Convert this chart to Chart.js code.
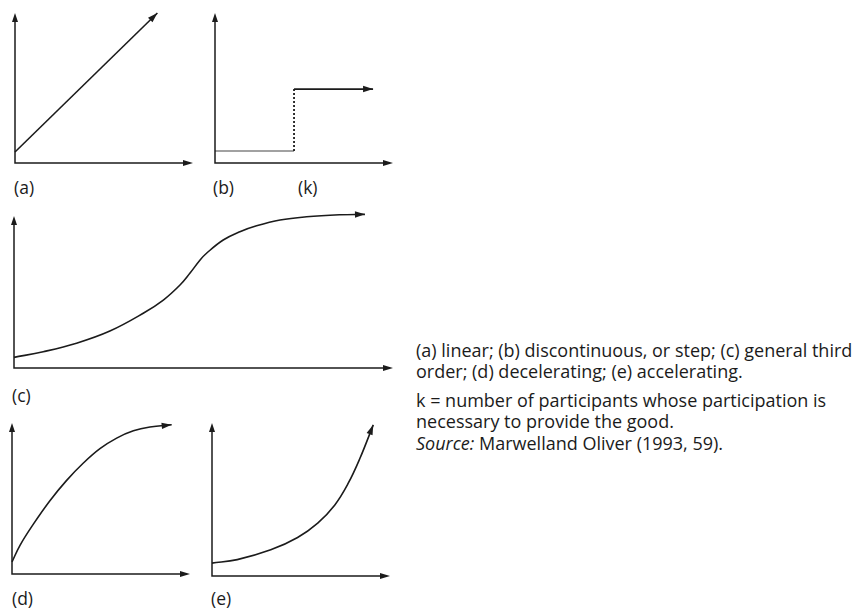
<!DOCTYPE html>
<html>
<head>
<meta charset="utf-8">
<script src="https://cdn.jsdelivr.net/npm/chart.js@4.4.1/dist/chart.umd.min.js"></script>
<style>
    body { margin: 0; width: 855px; height: 616px; background: #fff; position: relative; overflow: hidden;
           font-family: "Open Sans", "DejaVu Sans", sans-serif; color: #1b1b1b; }
    canvas { position: absolute; }
    .lbl { position: absolute; font-size: 17.5px; line-height: 18px; }
    .note { position: absolute; left: 416px; font-size: 18px; line-height: 21px; white-space: nowrap; }
</style>
</head>
<body>

<div class="lbl" style="left:14px; top:178px;">(a)</div>
<div class="lbl" style="left:213px; top:178px;">(b)</div>
<div class="lbl" style="left:298px; top:178px;">(k)</div>
<div class="lbl" style="left:12px; top:386px;">(c)</div>
<div class="lbl" style="left:12px; top:589px;">(d)</div>
<div class="lbl" style="left:211px; top:589px;">(e)</div>

<div class="note" style="top:340px;">(a) linear; (b) discontinuous, or step; (c) general third</div>
<div class="note" style="top:361px;">order; (d) decelerating; (e) accelerating.</div>
<div class="note" style="top:390px;">k = number of participants whose participation is</div>
<div class="note" style="top:411px;">necessary to provide the good.</div>
<div class="note" style="top:433px;"><i>Source:</i> Marwelland Oliver (1993, 59).</div>

<script>
// each panel runs 0..100 on both axes, axis arrows sit at 100
const aX = [0, 80];
const aY = [7.3, 100];

// step: low level up to k, dashed jump, high level after
const bX = [0, 44.4, 44.4, 88.8];
const bY = [8, 8, 49.3, 49.3];

// general third order (S-shaped)
const cX = [0, 7.7, 16.5, 25.3, 34.1, 39.4, 43.8, 46.4, 49.1, 50.8, 55.2, 59.6, 64.0, 70.2, 77.2, 86.0, 92.6];
const cY = [7.0, 10.7, 16.3, 24.3, 36.0, 44.7, 54.6, 62.3, 71.1, 75.5, 84.2, 89.7, 93.6, 97.4, 99.5, 100.8, 101.1];

// decelerating
const dX = [0, 4.5, 12.0, 21.3, 30.7, 40.1, 49.4, 58.8, 68.2, 77.5, 89.7];
const dY = [8.0, 19.0, 33.0, 48.5, 62.0, 73.5, 83.0, 90.0, 94.8, 97.3, 98.8];

// accelerating
const eX = [0, 14.2, 33.0, 48.1, 59.4, 68.9, 76.4, 83.0, 90.6];
const eY = [8.4, 10.7, 17.1, 25.2, 34.6, 46.3, 60.3, 76.6, 98.8];

const ink = '#1b1b1b';
const pad = 10;

function drawArrow(ctx, fx, fy, tx, ty, len, half) {
    const ang = Math.atan2(ty - fy, tx - fx);
    ctx.save();
    ctx.translate(tx, ty);
    ctx.rotate(ang);
    ctx.beginPath();
    ctx.moveTo(0, 0);
    ctx.lineTo(-len, -half);
    ctx.lineTo(-len, half);
    ctx.closePath();
    ctx.fill();
    ctx.restore();
}

// axes with arrowheads, plus an arrowhead at the end of each curve
const axesArrows = {
    id: 'axesArrows',
    afterDatasetsDraw(chart) {
        const { ctx, chartArea: a } = chart;
        ctx.save();
        ctx.strokeStyle = ink;
        ctx.fillStyle = ink;
        ctx.lineWidth = 1.5;
        ctx.beginPath();
        ctx.moveTo(a.left, a.top + 4);
        ctx.lineTo(a.left, a.bottom);
        ctx.lineTo(a.right - 4, a.bottom);
        ctx.stroke();
        drawArrow(ctx, a.left, a.bottom, a.left, a.top, 9, 3);
        drawArrow(ctx, a.left, a.bottom, a.right, a.bottom, 10, 3);

        chart.data.datasets.forEach((ds, i) => {
            const pts = chart.getDatasetMeta(i).data;
            const last = pts[pts.length - 1];
            const prev = pts[pts.length - 2];
            let fx = prev.x, fy = prev.y;
            if (last.cp1x !== undefined && (last.cp1x !== last.x || last.cp1y !== last.y)) {
                fx = last.cp1x; fy = last.cp1y;
            }
            drawArrow(ctx, fx, fy, last.x, last.y, 10, 3.2);
        });
        ctx.restore();
    }
};

function makePanel(box, xs, ys, extra) {
    const canvas = document.createElement('canvas');
    canvas.width = box.right - box.left + 2 * pad;
    canvas.height = box.bottom - box.top + 2 * pad;
    canvas.style.left = (box.left - pad) + 'px';
    canvas.style.top = (box.top - pad) + 'px';
    document.body.appendChild(canvas);

    const ds = Object.assign({
        data: xs.map((x, i) => ({ x: x, y: ys[i] })),
        showLine: true,
        borderColor: ink,
        borderWidth: 1.6,
        pointRadius: 0,
        tension: 0.4,
        clip: false
    }, extra || {});

    new Chart(canvas.getContext('2d'), {
        type: 'scatter',
        data: { datasets: [ds] },
        options: {
            responsive: false,
            animation: false,
            devicePixelRatio: 1,
            layout: { padding: pad },
            plugins: { legend: { display: false }, tooltip: { enabled: false } },
            scales: {
                x: { type: 'linear', min: 0, max: 100, display: false },
                y: { type: 'linear', min: 0, max: 100, display: false }
            }
        },
        plugins: [axesArrows]
    });
}

makePanel({ left: 15, top: 13, right: 193, bottom: 163 }, aX, aY, { tension: 0 });
makePanel({ left: 215, top: 13, right: 393, bottom: 163 }, bX, bY, {
    tension: 0,
    segment: {
        borderDash: c => c.p0DataIndex === 1 ? [2, 2] : undefined,
        borderWidth: c => c.p0DataIndex === 0 ? 1.2 : 1.8,
        borderColor: c => c.p0DataIndex === 0 ? '#444' : ink
    }
});
makePanel({ left: 14, top: 216, right: 393, bottom: 368 }, cX, cY);
makePanel({ left: 12, top: 423, right: 190, bottom: 574 }, dX, dY);
makePanel({ left: 212, top: 423, right: 390, bottom: 576 }, eX, eY);
</script>
</body>
</html>
